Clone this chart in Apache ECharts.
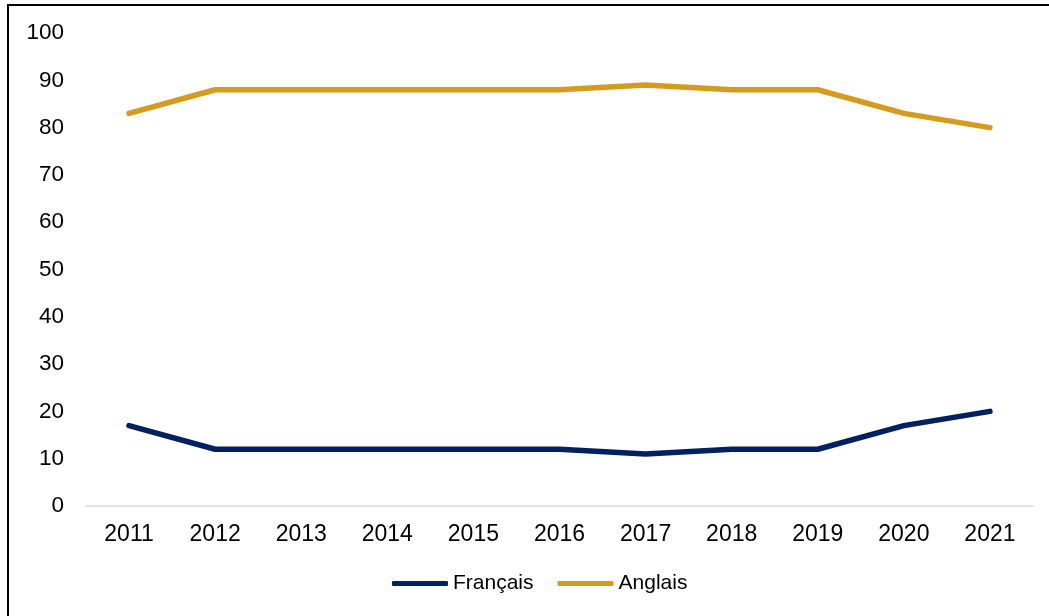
<!DOCTYPE html>
<html>
<head>
<meta charset="utf-8">
<script src="https://cdn.jsdelivr.net/npm/echarts@6/dist/echarts.min.js"></script>
<style>
  html, body { margin: 0; padding: 0; background: #fff; overflow: hidden; }
  #chart { width: 1049px; height: 616px; }
  #frame {
    position: absolute; left: 7px; top: 4px; width: 1100px; height: 700px;
    border-left: 2px solid #000; border-top: 2px solid #000; pointer-events: none;
  }
</style>
</head>
<body>
<div id="chart"></div>
<div id="frame"></div>
<script>
const years    = ['2011', '2012', '2013', '2014', '2015', '2016', '2017', '2018', '2019', '2020', '2021'];
const francais = [17, 12, 12, 12, 12, 12, 11, 12, 12, 17, 20];
const anglais  = [83, 88, 88, 88, 88, 88, 89, 88, 88, 83, 80];

const NAVY = '#002060';
const GOLD = '#D49B1F';
const FONT = 'Liberation Sans, Arial, sans-serif';

const chart = echarts.init(document.getElementById('chart'), null, { renderer: 'canvas' });

chart.setOption({
  backgroundColor: '#fff',
  animation: false,
  grid: { left: 86, right: 16, top: 33, bottom: 110 },
  legend: {
    bottom: 17,
    left: 387,
    itemWidth: 56,
    itemHeight: 5,
    itemGap: 24,
    icon: 'roundRect',
    textStyle: { color: '#000', fontSize: 21, fontFamily: FONT },
    data: ['Français', 'Anglais'],
  },
  xAxis: {
    type: 'category',
    data: years,
    boundaryGap: true,
    axisLine: { lineStyle: { color: '#d9d9d9', width: 1.5 } },
    axisTick: { show: false },
    axisLabel: { color: '#000', fontSize: 23, fontFamily: FONT, margin: 17 },
  },
  yAxis: {
    type: 'value',
    min: 0,
    max: 100,
    interval: 10,
    axisLine: { show: false },
    axisTick: { show: false },
    splitLine: { show: false },
    axisLabel: { color: '#000', fontSize: 22.5, fontFamily: FONT, margin: 22 },
  },
  series: [
    {
      name: 'Français',
      type: 'line',
      data: francais,
      symbol: 'none',
      lineStyle: { color: NAVY, width: 5.5, cap: 'round', join: 'round' },
      itemStyle: { color: NAVY },
    },
    {
      name: 'Anglais',
      type: 'line',
      data: anglais,
      symbol: 'none',
      lineStyle: { color: GOLD, width: 5.5, cap: 'round', join: 'round' },
      itemStyle: { color: GOLD },
    },
  ],
});
</script>
</body>
</html>
